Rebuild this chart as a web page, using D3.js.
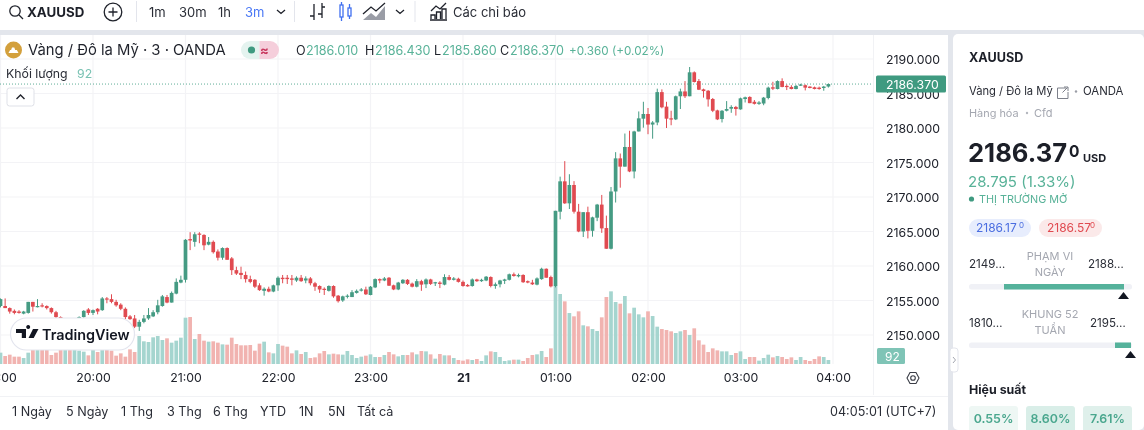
<!DOCTYPE html>
<html><head><meta charset="utf-8">
<script src="https://cdnjs.cloudflare.com/ajax/libs/d3/7.8.5/d3.min.js"></script>
<style>
html,body{margin:0;padding:0;background:#e3e6ec;overflow:hidden}
svg{display:block;filter:blur(0.3px)}
text{font-family:Inter,"Noto Sans",sans-serif}
</style></head><body>
<div id="chart"></div>
<script>
const priceTicks=[2150,2155,2160,2165,2170,2175,2180,2185,2190];
const timeTickIndex=[0,20,40,60,80,100,120,140,160,180];
const timeTickLabels=["19:00","20:00","21:00","22:00","23:00","21","01:00","02:00","03:00","04:00"];
const opens=[2154.2,2154.2,2153.9,2153.5,2153.4,2153.1,2153.2,2154.8,2154.1,2154.3,
2154.2,2153.9,2153.3,2152.6,2152.1,2152.2,2152.0,2152.1,2152.6,2153.7,
2153.2,2153.8,2153.6,2155.3,2155.2,2154.8,2154.4,2153.8,2152.7,2152.4,
2151.2,2151.9,2152.4,2152.7,2153.3,2154.2,2155.5,2154.7,2156.0,2157.6,
2158.0,2163.9,2163.5,2164.7,2164.5,2163.1,2163.5,2162.1,2161.2,2162.6,
2161.1,2159.4,2159.0,2158.7,2158.1,2158.0,2157.2,2156.4,2156.7,2156.3,
2157.2,2158.3,2158.3,2158.2,2157.9,2158.3,2157.9,2158.2,2157.5,2157.1,
2156.7,2156.4,2157.1,2155.7,2155.0,2155.6,2155.5,2156.1,2156.5,2156.6,
2155.8,2156.9,2158.1,2157.9,2158.3,2157.2,2156.6,2157.5,2158.0,2157.45,
2157.0,2157.8,2157.35,2158.05,2157.55,2157.6,2157.3,2158.4,2158.0,2158.15,
2157.7,2157.25,2157.1,2158.05,2157.8,2157.9,2158.4,2157.1,2157.35,2157.85,
2158.0,2158.8,2158.5,2158.7,2157.8,2157.6,2157.3,2158.1,2159.6,2158.4,
2157.1,2167.87,2172.27,2169.08,2171.74,2167.87,2165.0,2167.8,2165.1,2167.0,
2168.9,2165.5,2162.5,2170.8,2175.6,2174.4,2177.25,2173.7,2179.5,2181.35,
2182.03,2180.5,2180.8,2185.2,2183.1,2181.4,2181.25,2184.6,2185.3,2184.6,
2188.07,2186.8,2185.6,2185.4,2184.2,2182.55,2181.3,2182.5,2182.8,2183.05,
2182.7,2184.2,2184.5,2183.8,2183.5,2183.55,2184.35,2185.9,2185.65,2186.8,
2186.1,2185.95,2185.65,2186.2,2186.2,2186.0,2185.9,2185.85,2185.8,2186.01];
const highs=[2155.3,2155.3,2154.0,2153.7,2153.6,2153.5,2154.8,2154.8,2155.2,2154.6,
2154.3,2154.0,2153.5,2152.7,2152.4,2152.4,2152.3,2152.7,2153.6,2153.9,
2153.7,2153.9,2155.5,2155.5,2155.9,2155.1,2154.6,2154.0,2152.9,2152.9,
2152.2,2152.9,2153.9,2153.6,2155.1,2155.8,2155.8,2156.3,2158.2,2158.6,
2163.9,2164.9,2164.9,2164.9,2164.6,2164.2,2163.7,2162.4,2162.7,2162.7,
2161.3,2159.9,2159.9,2159.2,2158.6,2158.1,2157.5,2156.9,2157.0,2157.3,
2158.5,2158.7,2158.7,2158.7,2158.5,2158.7,2158.5,2158.4,2157.7,2157.2,
2156.9,2157.2,2157.2,2155.8,2155.7,2155.9,2156.5,2156.6,2156.8,2157.0,
2157.1,2158.2,2158.2,2158.4,2158.4,2157.3,2157.7,2158.1,2158.1,2157.6,
2158.1,2158.0,2158.2,2158.15,2157.7,2157.8,2158.8,2158.7,2158.4,2158.3,
2157.9,2157.4,2158.2,2158.15,2158.15,2158.55,2158.5,2157.6,2158.0,2158.15,
2158.9,2159.05,2158.9,2158.8,2157.9,2158.0,2158.35,2159.75,2159.65,2158.6,
2168.0,2172.95,2175.2,2173.3,2172.3,2169.0,2167.8,2168.6,2167.15,2169.0,
2170.3,2167.3,2171.45,2176.5,2176.3,2179.2,2179.6,2179.6,2182.4,2183.8,
2182.9,2181.0,2185.7,2185.6,2183.8,2182.5,2184.7,2185.7,2186.8,2188.84,
2188.2,2187.1,2185.7,2185.5,2184.35,2182.65,2182.6,2183.9,2183.3,2183.2,
2184.4,2184.55,2184.6,2184.05,2183.9,2184.5,2186.0,2186.7,2186.9,2187.2,
2186.3,2186.2,2186.25,2186.4,2186.3,2186.05,2186.0,2186.0,2186.1,2186.43];
const lows=[2154.0,2153.9,2153.1,2153.0,2153.1,2153.0,2153.1,2153.4,2154.0,2154.0,
2153.7,2153.1,2152.4,2152.0,2151.9,2151.8,2151.8,2152.0,2152.5,2152.9,
2152.9,2153.0,2153.5,2154.6,2154.6,2154.1,2153.6,2152.3,2152.2,2151.0,
2150.6,2151.7,2152.2,2152.6,2153.0,2154.1,2154.6,2154.7,2155.9,2157.5,
2157.6,2162.3,2162.8,2163.3,2162.3,2163.0,2161.8,2160.8,2160.9,2160.9,
2158.7,2158.7,2158.1,2157.6,2157.5,2156.8,2156.4,2155.7,2156.2,2156.2,
2156.4,2157.5,2157.4,2157.2,2157.7,2157.7,2157.5,2157.2,2156.4,2156.1,
2155.8,2156.3,2155.4,2154.7,2154.8,2155.3,2155.5,2156.0,2156.3,2155.8,
2155.75,2156.8,2157.5,2157.8,2157.1,2156.5,2156.5,2157.4,2157.25,2156.9,
2156.9,2156.4,2156.8,2157.25,2157.1,2156.8,2157.2,2157.9,2157.9,2157.6,
2157.0,2157.0,2157.0,2157.7,2157.7,2157.8,2156.9,2156.7,2156.9,2157.4,
2157.9,2158.45,2158.35,2157.55,2157.5,2157.25,2157.2,2158.0,2158.3,2156.9,
2156.9,2166.76,2169.0,2168.26,2167.6,2164.9,2164.2,2164.0,2164.25,2166.5,
2164.8,2162.5,2162.4,2169.2,2171.35,2174.4,2173.6,2172.7,2179.5,2180.05,
2179.1,2178.45,2180.4,2182.85,2180.0,2180.4,2181.15,2182.75,2184.35,2184.6,
2186.6,2185.5,2184.4,2183.1,2182.3,2181.15,2180.8,2182.4,2182.2,2181.8,
2182.65,2183.7,2183.6,2183.4,2183.35,2183.3,2184.15,2185.5,2185.6,2185.9,
2185.5,2185.6,2185.6,2186.1,2185.45,2185.75,2185.6,2185.55,2185.4,2185.86];
const closes=[2155.2,2153.9,2153.4,2153.2,2153.2,2153.4,2154.8,2154.1,2154.2,2154.2,
2153.9,2153.3,2152.6,2152.1,2152.2,2152.0,2152.1,2152.6,2153.5,2153.2,
2153.6,2153.4,2155.3,2155.2,2154.8,2154.3,2153.8,2152.6,2152.3,2151.2,
2151.9,2152.4,2152.9,2153.3,2154.3,2155.6,2154.7,2156.1,2157.7,2158.0,
2163.8,2163.7,2164.6,2164.6,2163.0,2163.5,2162.0,2161.2,2162.6,2160.9,
2159.4,2158.9,2158.7,2158.1,2157.7,2157.0,2156.5,2156.7,2156.3,2157.2,
2158.3,2158.1,2158.1,2158.0,2158.3,2157.8,2158.2,2157.5,2157.0,2156.6,
2156.6,2157.1,2155.6,2154.9,2155.6,2155.7,2156.2,2156.4,2156.6,2155.9,
2157.0,2158.1,2157.9,2158.2,2157.15,2156.6,2157.6,2158.0,2157.4,2157.0,
2157.8,2157.3,2158.05,2157.4,2157.65,2157.4,2158.4,2158.0,2158.2,2157.7,
2157.1,2157.05,2158.05,2157.8,2158.0,2158.45,2157.1,2157.35,2157.9,2158.05,
2158.8,2158.55,2158.7,2157.65,2157.6,2157.35,2158.2,2159.6,2158.3,2157.05,
2168.0,2172.27,2169.08,2171.74,2167.87,2165.0,2167.8,2165.1,2167.05,2168.9,
2165.45,2162.5,2170.8,2175.6,2174.4,2177.25,2173.7,2179.5,2181.4,2182.03,
2180.5,2180.8,2185.2,2183.0,2181.35,2181.3,2184.6,2185.3,2184.6,2188.07,
2186.67,2185.55,2185.35,2184.15,2182.5,2181.25,2182.5,2182.75,2183.05,2182.75,
2184.3,2184.45,2183.6,2183.5,2183.7,2184.4,2185.85,2185.7,2186.8,2185.95,
2185.95,2185.65,2186.1,2186.3,2185.85,2185.8,2185.65,2185.65,2186.0,2186.37];
const volumes=[261,184,215,169,169,138,261,337,337,337,
337,207,261,337,322,322,322,307,284,199,
322,276,322,322,307,192,245,169,337,276,
644,522,506,614,644,552,591,491,537,606,
1066,1081,575,690,537,514,522,491,452,445,
606,460,430,430,437,307,468,514,268,245,
460,422,399,245,314,230,276,138,153,245,
299,222,238,222,215,299,207,138,169,192,
222,161,161,207,276,222,176,207,207,268,
222,299,291,222,123,230,199,199,138,92,
77,107,92,115,69,199,291,276,161,69,
84,100,100,69,138,207,222,299,161,360,
1795,1611,1442,1173,1097,1212,890,867,805,759,
1074,1542,1672,1427,1388,1565,1166,1296,1143,1074,
1212,1104,859,805,782,752,713,752,782,667,
821,545,445,276,360,314,291,291,207,253,
291,115,161,161,77,138,215,153,184,161,
115,153,92,161,92,69,115,176,161,92];
const lastPrice=2186.37;
const lastVolume=92;
const rangeButtons=[["1 Ngày",12],["5 Ngày",66],["1 Thg",121],["3 Thg",167],["6 Thg",213],["YTD",260],["1N",299],["5N",328],["Tất cả",357]];

const UP="#459b83",DOWN="#e04a50",UPV="#a5d5cf",DOWNV="#f1b3b0",INK="#1c1f28",GRID="#f3f3f6",GREENTXT="#58b298";
const W=1144,H=430;
const svg=d3.select("#chart").append("svg").attr("width",W).attr("height",H);
svg.append("rect").attr("width",W).attr("height",H).attr("fill","#e3e6ec");
// panels
svg.append("rect").attr("width",W).attr("height",30).attr("fill","#fff");
svg.append("rect").attr("x",0).attr("y",35).attr("width",948).attr("height",395).attr("fill","#fff");
svg.append("rect").attr("x",953).attr("y",34).attr("width",191).attr("height",396).attr("rx",5).attr("fill","#fff");

const x=d3.scaleLinear().domain([0,180]).range([0.5,833]);
const y=d3.scaleLinear().domain([2150,2190]).range([335,59]);
const yV=d3.scaleLinear().domain([0,1795]).range([364,286]);

const defs=svg.append("defs");
defs.append("clipPath").attr("id","plot").append("rect").attr("x",0).attr("y",35).attr("width",873).attr("height",329);
const plot=svg.append("g").attr("clip-path","url(#plot)");

// grid
plot.selectAll(".gh").data(priceTicks).join("line").attr("x1",0).attr("x2",873)
 .attr("y1",d=>y(d)).attr("y2",d=>y(d)).attr("stroke",GRID).attr("stroke-width",1.2);
plot.selectAll(".gv").data(timeTickIndex).join("line").attr("y1",35).attr("y2",364)
 .attr("x1",d=>x(d)).attr("x2",d=>x(d)).attr("stroke",GRID).attr("stroke-width",1.2);

// volume
plot.selectAll(".v").data(volumes).join("rect")
 .attr("x",(d,i)=>x(i)-1.85).attr("width",3.7)
 .attr("y",d=>yV(d)).attr("height",d=>yV(0)-yV(d))
 .attr("fill",(d,i)=>closes[i]>=opens[i]?UPV:DOWNV);

// price line
plot.append("line").attr("x1",0).attr("x2",873).attr("y1",y(lastPrice)).attr("y2",y(lastPrice))
 .attr("stroke","#5fae98").attr("stroke-width",1).attr("stroke-dasharray","1 2");

// candles
const idx=d3.range(opens.length);
plot.selectAll(".w").data(idx).join("line")
 .attr("x1",i=>x(i)).attr("x2",i=>x(i)).attr("y1",i=>y(highs[i])).attr("y2",i=>y(lows[i]))
 .attr("stroke",i=>closes[i]>=opens[i]?UP:DOWN).attr("stroke-width",1);
plot.selectAll(".b").data(idx).join("rect")
 .attr("x",i=>x(i)-1.85).attr("width",3.7)
 .attr("y",i=>y(Math.max(opens[i],closes[i])))
 .attr("height",i=>Math.max(1.2,Math.abs(y(opens[i])-y(closes[i]))))
 .attr("fill",i=>closes[i]>=opens[i]?UP:DOWN);

// axes
const yAxis=d3.axisRight(y).tickValues(priceTicks).tickFormat(d3.format(".3f")).tickSize(0).tickPadding(0);
const gy=svg.append("g").attr("transform","translate(886,0.6)").call(yAxis);
gy.select(".domain").remove();
gy.selectAll("text").attr("font-size",12.3).attr("fill","#20232c").attr("font-family","Inter");
const xAxis=d3.axisBottom(x).tickValues(timeTickIndex).tickFormat(d=>timeTickLabels[timeTickIndex.indexOf(d)]).tickSize(0).tickPadding(0);
const gx=svg.append("g").attr("transform","translate(0,373)").call(xAxis);
gx.select(".domain").remove();
gx.selectAll("text").attr("font-size",12.3).attr("fill","#20232c").attr("font-family","Inter")
 .attr("font-weight",d=>d===100?700:400);

function T(s,px,py,size,fill,opt={}){
 return svg.append("text").attr("x",px).attr("y",py).attr("font-size",size).attr("fill",fill)
  .attr("font-weight",opt.w||400).attr("text-anchor",opt.a||"start").text(s);
}

// axis lines
svg.append("line").attr("x1",873.5).attr("x2",873.5).attr("y1",35).attr("y2",395).attr("stroke","#f1f2f5");
svg.append("line").attr("x1",0).attr("x2",948).attr("y1",396.5).attr("y2",396.5).attr("stroke","#f1f2f5");

// price tags
svg.append("rect").attr("x",876).attr("y",y(lastPrice)-8.5).attr("width",70).attr("height",17).attr("rx",1.5).attr("fill","#3f9a80");
T(d3.format(".3f")(lastPrice),886,y(lastPrice)+4.5,12.3,"#fff");
svg.append("rect").attr("x",877).attr("y",348).attr("width",28).attr("height",16).attr("rx",1.5).attr("fill","#7fc4b6");
T(String(lastVolume),885,360.5,12,"#fff");
// settings icon
svg.append("path").attr("d",d3.line()([[907,378],[910,372.5],[916,372.5],[919,378],[916,383.5],[910,383.5]])+"Z").attr("fill","none").attr("stroke","#3a3d46").attr("stroke-width",1.1);
svg.append("circle").attr("cx",913).attr("cy",378).attr("r",2.3).attr("fill","none").attr("stroke","#3a3d46").attr("stroke-width",1.1);

// TradingView logo
svg.append("rect").attr("x",10.5).attr("y",318).attr("width",124).attr("height",32).attr("rx",16).attr("fill","#fff").attr("stroke","#e3e5ee").attr("stroke-width",1.2);
svg.append("path").attr("d","M16 329h10v9h-4.2V333H16zM28.2 329a2 2 0 1 1 .01 0zM33 329h5.5l-4.8 9h-5.2z").attr("fill","#131722");
T("TradingView",42,339.5,14.4,"#131722",{w:600});

// legend
svg.append("circle").attr("cx",13.5).attr("cy",50).attr("r",8.5).attr("fill","#d3a03c");
svg.append("path").attr("d","M8.5 53h10l-1.6-3h-1.7l-.9-2.5h-2.3l-.9 2.5h-1z").attr("fill","#fff");
T("Vàng / Đô la Mỹ · 3 · OANDA",28,55,14.8,"#1f222b");
svg.append("path").attr("d","M250 41h9.5v18H250a9 9 0 0 1 0-18z").attr("fill","#e4f3ef");
svg.append("path").attr("d","M259.5 41h10.5a9 9 0 0 1 0 18h-10.5z").attr("fill","#f5cedb");
svg.append("circle").attr("cx",251.5).attr("cy",50).attr("r",3.6).attr("fill","#3f9a80");
T("≈",264.5,54.5,13,"#c8385f",{w:700,a:"middle"});
[["O","2186.010",296],["H","2186.430",365],["L","2185.860",434],["C","2186.370",500]].forEach(d=>{
 T(d[0],d[2],54.5,12.6,"#1f222b");
 T(d[1],d[2]+(d[0]==="L"?8:10),54.5,12.6,GREENTXT);
});
T("+0.360 (+0.02%)",569,54.5,11.7,GREENTXT);
T("Khối lượng",6,77.5,12.3,"#2a2d36");
T("92",77,77.5,12.3,"#79c2b3");
svg.append("rect").attr("x",7).attr("y",88).attr("width",27).attr("height",18).attr("rx",2.5).attr("fill","#fff").attr("stroke","#dfe1e8");
svg.append("path").attr("d","M16.5 99l4-4 4 4").attr("fill","none").attr("stroke","#1f222b").attr("stroke-width",1.4);

// toolbar
const tb=svg.append("g").attr("fill","none").attr("stroke","#1f222b").attr("stroke-width",1.3);
tb.append("circle").attr("cx",15).attr("cy",11).attr("r",5.2);
tb.append("path").attr("d","M19 15l4 4");
T("XAUUSD",27,17,13.3,INK,{w:700});
tb.append("circle").attr("cx",113).attr("cy",12).attr("r",8.8);
tb.append("path").attr("d","M113 7.5v9M108.5 12h9");
[136.5,294.5,415].forEach(v=>svg.append("line").attr("x1",v).attr("x2",v).attr("y1",1).attr("y2",22).attr("stroke","#e3e5ec"));
T("1m",149,17,13,"#2a2d36");T("30m",179,17,13,"#2a2d36");T("1h",218,17,13,"#2a2d36");T("3m",245,17,13,"#4a78f5");
tb.append("path").attr("d","M277 10l4 3.5 4-3.5M396 10l4 3.5 4-3.5");
tb.append("path").attr("d","M314 4v16M310 16h4M322 3v15M322 7h3M318 14h4");
svg.append("g").attr("fill","none").attr("stroke","#3f6ff0").attr("stroke-width",1.3).call(g=>{
 g.append("rect").attr("x",340).attr("y",5).attr("width",3).attr("height",12);
 g.append("path").attr("d","M341.5 2v3M341.5 17v4M349.5 4v4M349.5 16v3");
 g.append("rect").attr("x",348).attr("y",8).attr("width",3).attr("height",8);
});
svg.append("path").attr("d","M363 20l8-7 5 4 9-11v14z").attr("fill","#9a9da6");
tb.append("path").attr("d","M363 14l8-7 5 4 9-8");
tb.append("path").attr("d","M431 19v-4h4v4M436.5 19v-7h4v7M442 19V9h4v10M430 20h17M431 11l5-5 4 3 6-6");
T("Các chỉ báo",453,16.5,13,"#2a2d36");

// bottom bar
rangeButtons.forEach(d=>T(d[0],d[1],416,12.6,"#2a2d36"));
T("04:05:01 (UTC+7)",830,416,12.6,"#2a2d36");

// right panel
T("XAUUSD",969,62,12.6,INK,{w:700});
T("Vàng / Đô la Mỹ",969,95,11.2,"#2a2d36");
svg.append("path").attr("d","M1066 88h-8.5v10.5h10.5V92M1062.5 92.5l5-5M1064 87h4v4").attr("fill","none").attr("stroke","#7d808a");
svg.append("circle").attr("cx",1076).attr("cy",91.5).attr("r",1.2).attr("fill","#9a9da6");
T("OANDA",1083,95,11.4,"#2a2d36");
T("Hàng hóa",969,117,10.9,"#a4a7b0");
svg.append("circle").attr("cx",1027).attr("cy",113).attr("r",1.2).attr("fill","#b4b7be");
T("Cfd",1034,117,11,"#a4a7b0");
T("2186.37",968,162,25.6,INK,{w:700});
T("0",1069,157,15.5,INK,{w:700});
T("USD",1083,162,11,INK,{w:700});
T("28.795 (1.33%)",968,187,15,GREENTXT);
svg.append("circle").attr("cx",971.5).attr("cy",199).attr("r",2.6).attr("fill","#3f9a80");
T("THỊ TRƯỜNG MỞ",979,203,10.8,GREENTXT);
svg.append("rect").attr("x",969).attr("y",219).attr("width",62).attr("height",18).attr("rx",9).attr("fill","#e7edfd");
T("2186.17",976,232,12,"#4a6de0");T("0",1019,228,8,"#4a6de0");
svg.append("rect").attr("x",1039).attr("y",219).attr("width",63).attr("height",18).attr("rx",9).attr("fill","#fbe9e9");
T("2186.57",1047,232,12,"#e04a50");T("0",1090,228,8,"#e04a50");

T("2149…",969,268,11.6,"#2a2d36");T("PHẠM VI",1050,260,11,"#a4a7b0",{a:"middle"});T("NGÀY",1050,276,11,"#a4a7b0",{a:"middle"});T("2188…",1088,268,11.6,"#2a2d36");
svg.append("rect").attr("x",969).attr("y",284).attr("width",163).attr("height",5.5).attr("rx",2.5).attr("fill","#f0f1f6");
svg.append("rect").attr("x",1004).attr("y",284).attr("width",120).attr("height",5.5).attr("fill","#55b29b");
svg.append("path").attr("d","M1118 299l5.5-7 5.5 7z").attr("fill","#131722");
T("1810…",969,327,11.6,"#2a2d36");T("KHUNG 52",1050,318,11,"#a4a7b0",{a:"middle"});T("TUẦN",1050,334,11,"#a4a7b0",{a:"middle"});T("2195…",1090,327,11.6,"#2a2d36");
svg.append("rect").attr("x",969).attr("y",342.5).attr("width",163).attr("height",5.5).attr("rx",2.5).attr("fill","#f0f1f6");
svg.append("rect").attr("x",1115).attr("y",342.5).attr("width",16).attr("height",5.5).attr("fill","#55b29b");
svg.append("path").attr("d","M1125 358l5.5-7 5.5 7z").attr("fill","#131722");
svg.append("rect").attr("x",950).attr("y",348).attr("width",8).attr("height",24).attr("rx",3).attr("fill","#fff").attr("stroke","#e3e5ec");
svg.append("path").attr("d","M953 357l2.5 3-2.5 3").attr("fill","none").attr("stroke","#a4a7b0");
T("Hiệu suất",969,394,12.4,INK,{w:700});
[[969,"0.55%","#eef7f4"],[1026,"8.60%","#d9eee8"],[1083,"7.61%","#dff0eb"]].forEach(d=>{
 svg.append("rect").attr("x",d[0]).attr("y",406).attr("width",49).attr("height",30).attr("rx",3).attr("fill",d[2]);
 T(d[1],d[0]+24.5,423,12.4,"#4aa78e",{w:600,a:"middle"});
});
</script>
</body></html>
